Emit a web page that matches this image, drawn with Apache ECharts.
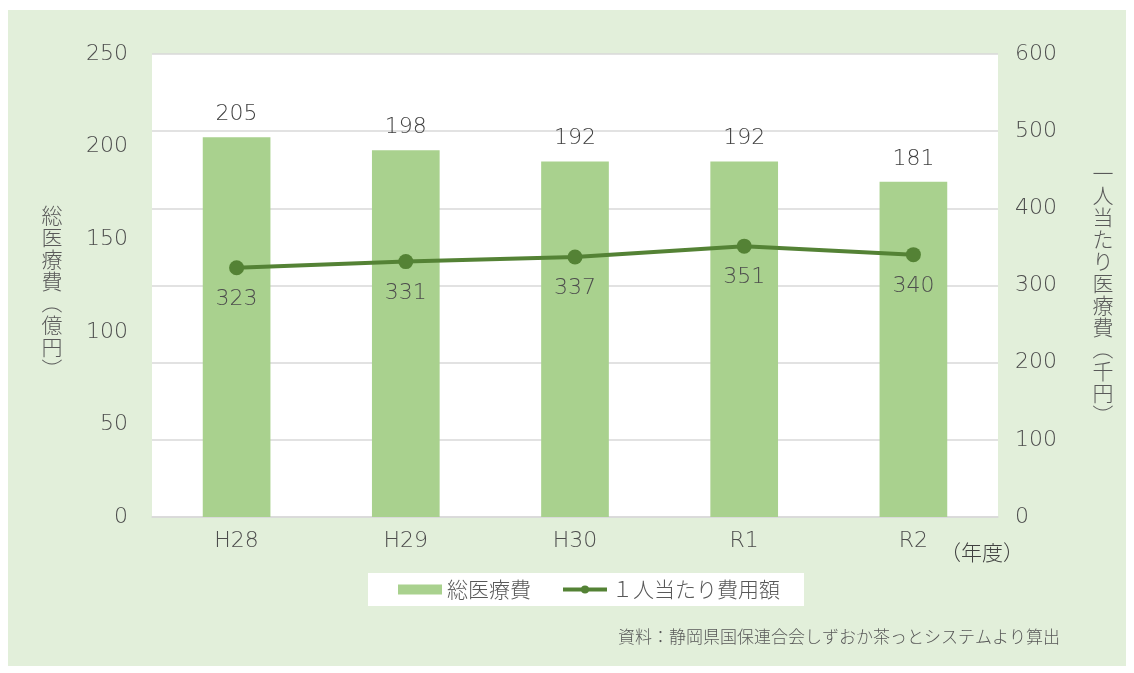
<!DOCTYPE html>
<html>
<head>
<meta charset="utf-8">
<script src="https://cdn.jsdelivr.net/npm/echarts@6/dist/echarts.min.js"></script>
<style>
  html, body { margin: 0; padding: 0; background: #ffffff; }
  #chart { width: 1134px; height: 673px; }
</style>
</head>
<body>
<div id="chart"></div>
<script>
// 年度別 総医療費（億円）と一人当たり医療費（千円）
const years = ['H28', 'H29', 'H30', 'R1', 'R2'];
const totalCost = [205, 198, 192, 192, 181];
const perCapitaCost = [323, 331, 337, 351, 340];
const leftTicks = { min: 0, max: 250, interval: 50 };
const rightTicks = { min: 0, max: 600, interval: 100 };
const leftName = '総医療費（億円）';
const rightName = '一人当たり医療費（千円）';

const JP = '"Noto Sans CJK JP", "Noto Sans", sans-serif';
const NUM = '"DejaVu Sans", sans-serif';
const TEXT = '#595959';
const NUM_COLOR = '#4d4d4d';
const LINE_GREEN = '#548235';

// 縦書きの軸名：1文字ずつ積み、括弧は90°回して縦書き用の形にする
function verticalText(str, cx, top, step, size) {
  return {
    type: 'group',
    children: Array.from(str).map((ch, i) => {
      const isParen = ch === '（' || ch === '）';
      return {
        type: 'text',
        x: cx,
        y: top + i * step + step / 2,
        rotation: isParen ? -Math.PI / 2 : 0,
        style: {
          text: ch,
          font: '300 ' + size + 'px ' + JP,
          fill: TEXT,
          align: 'center',
          verticalAlign: 'middle'
        }
      };
    })
  };
}

const numLabel = { color: NUM_COLOR, fontSize: 22, fontFamily: NUM, fontWeight: 200 };

const chart = echarts.init(document.getElementById('chart'), null, { renderer: 'canvas' });

chart.setOption({
  backgroundColor: '#ffffff',
  textStyle: { fontFamily: JP },
  graphic: [
    { type: 'rect', z: -10, shape: { x: 8, y: 10, width: 1118, height: 656 },
      style: { fill: '#e2efda' }, silent: true },
    verticalText(leftName, 52, 204, 22, 21),
    verticalText(rightName, 1103, 162, 22, 21),
    { type: 'text', x: 940, y: 552,
      style: { text: '（年度）', font: '300 21px ' + JP, fill: '#404040', verticalAlign: 'middle' } },
    { type: 'text', x: 1060, y: 637,
      style: { text: '資料：静岡県国保連合会しずおか茶っとシステムより算出', font: '300 17px ' + JP,
               fill: TEXT, align: 'right', verticalAlign: 'middle' } }
  ],
  legend: {
    top: 573, left: 368,
    backgroundColor: '#ffffff',
    padding: [6, 24, 6, 30],
    itemGap: 30,
    itemWidth: 44,
    itemHeight: 10,
    textStyle: { fontSize: 21, color: TEXT, fontFamily: JP, fontWeight: 300 },
    data: [
      { name: '総医療費', icon: 'rect' },
      { name: '１人当たり費用額', lineStyle: { width: 4, color: LINE_GREEN } }
    ]
  },
  grid: { left: 152, right: 136, top: 54, bottom: 156, show: true, backgroundColor: '#ffffff', borderWidth: 0 },
  xAxis: {
    type: 'category',
    data: years,
    axisLine: { lineStyle: { color: '#d9d9d9', width: 1.5 } },
    axisTick: { show: false },
    axisLabel: Object.assign({ margin: 13 }, numLabel)
  },
  yAxis: [
    {
      type: 'value', position: 'left',
      min: leftTicks.min, max: leftTicks.max, interval: leftTicks.interval,
      splitLine: { show: false },
      axisLine: { show: false }, axisTick: { show: false },
      axisLabel: Object.assign({ margin: 24 }, numLabel)
    },
    {
      type: 'value', position: 'right',
      min: rightTicks.min, max: rightTicks.max, interval: rightTicks.interval,
      splitLine: { show: true, lineStyle: { color: '#d9d9d9', width: 1.5 } },
      axisLine: { show: false }, axisTick: { show: false },
      axisLabel: Object.assign({ margin: 17 }, numLabel)
    }
  ],
  series: [
    {
      name: '総医療費',
      type: 'bar',
      yAxisIndex: 0,
      data: totalCost,
      barWidth: '40%',
      itemStyle: { color: '#a9d18e' },
      label: Object.assign({ show: true, position: 'top', distance: 12 }, numLabel, { color: '#404040' })
    },
    {
      name: '１人当たり費用額',
      type: 'line',
      yAxisIndex: 1,
      data: perCapitaCost,
      symbol: 'circle',
      symbolSize: 15,
      lineStyle: { color: LINE_GREEN, width: 4 },
      itemStyle: { color: LINE_GREEN },
      label: Object.assign({ show: true, position: 'bottom', distance: 13 }, numLabel),
      z: 5
    }
  ]
});
</script>
</body>
</html>
